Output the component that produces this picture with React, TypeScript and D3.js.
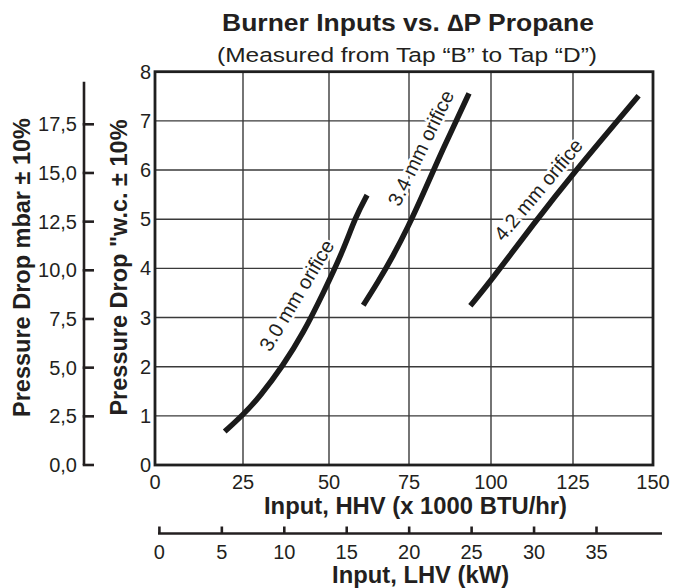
import * as d3 from 'd3'

// HHV input, x 1000 BTU/hr (bottom axis) and pressure drop, "w.c. (left axis)
const hhvTicks = [0, 25, 50, 75, 100, 125, 150]
const wcTicks = [0, 1, 2, 3, 4, 5, 6, 7, 8]
const mbarTicks = [0, 2.5, 5, 7.5, 10, 12.5, 15, 17.5]
const kwTicks = [0, 5, 10, 15, 20, 25, 30, 35]

// curves: [HHV, "w.c.]
const orifice30: [number, number][] = [
  [19.8, 0.68], [25, 1.02], [29.9, 1.39], [36.7, 2.03], [42.5, 2.68],
  [48.3, 3.49], [54.5, 4.37], [58.3, 5.05], [61.9, 5.49],
]
const orifice34: [number, number][] = [
  [60.7, 3.25], [65.3, 3.72], [70, 4.25], [74.7, 4.84], [79.3, 5.51],
  [83.8, 6.2], [88.7, 6.9], [93.3, 7.56],
]
const orifice42: [number, number][] = [
  [93.7, 3.24], [99.8, 3.73], [112.9, 4.9], [125, 5.93], [145.5, 7.51],
]
const curves = [orifice30, orifice34, orifice42]
const curveNames = ['3.0 mm orifice', '3.4 mm orifice', '4.2 mm orifice']
// where each name sits (HHV, "w.c.) and its slant in degrees
const nameSpots: [number, number, number][] = [
  [40.6, 3.45, -59],
  [78.6, 6.45, -64],
  [114.4, 5.6, -50],
]

const W = 674
const H = 588
const FONT = "'Liberation Sans', Arial, Helvetica, sans-serif"
const INK = '#231f20'

export default function App() {
  // the grid in the source is hand spaced, so x is piecewise
  const x = d3.scaleLinear().domain(hhvTicks).range([155, 243, 329, 409, 491, 573, 653])
  const y = d3.scaleLinear().domain([0, 8]).range([465, 71.7])
  const yMbar = d3.scaleLinear().domain([0, 17.5]).range([465, 124.3])
  const xKw = d3.scaleLinear().domain([0, 35]).range([159.4, 596.5])

  const [x0, x1] = [x(0), x(150)]
  const [yTop, yBot] = [y(8), y(0)]

  const line = d3
    .line<[number, number]>()
    .x((d) => x(d[0]))
    .y((d) => y(d[1]))
    .curve(d3.curveBasis)

  const mbarX = 84
  const kwY = 533.5

  return (
    <div style={{ position: 'absolute', left: 0, top: 0 }}>
      <svg width={W} height={H} style={{ display: 'block', background: '#fff' }} fontFamily={FONT}>
        {/* titles */}
        <text x={408} y={31} textAnchor="middle" fontSize={23.5} fontWeight="bold" fill={INK}
          textLength={372} lengthAdjust="spacingAndGlyphs">
          Burner Inputs vs. ∆P Propane
        </text>
        <text x={407} y={62} textAnchor="middle" fontSize={20.5} fill={INK}
          textLength={380} lengthAdjust="spacingAndGlyphs">
          (Measured from Tap “B” to Tap “D”)
        </text>

        {/* grid */}
        {hhvTicks.slice(1, -1).map((t) => (
          <line key={'gx' + t} x1={x(t)} x2={x(t)} y1={yTop} y2={yBot} stroke="#3a3a3a" strokeWidth={1.4} />
        ))}
        {wcTicks.slice(1, -1).map((t) => (
          <line key={'gy' + t} x1={x0} x2={x1} y1={y(t)} y2={y(t)} stroke="#3a3a3a" strokeWidth={1.4} />
        ))}

        {/* curve names, knocked out of the grid */}
        {curveNames.map((name, i) => {
          const [hx, wy, ang] = nameSpots[i]
          return (
            <text key={name} transform={`translate(${x(hx)},${y(wy)}) rotate(${ang})`} textAnchor="middle"
              dy="0.35em" fontSize={20} fill={INK} stroke="#fff" strokeWidth={5} paintOrder="stroke"
              strokeLinejoin="round">
              {name}
            </text>
          )
        })}

        {curves.map((c, i) => (
          <path key={i} d={line(c) ?? ''} fill="none" stroke="#1a1a1a" strokeWidth={5.5} strokeLinecap="butt" />
        ))}

        <rect x={x0} y={yTop} width={x1 - x0} height={yBot - yTop} fill="none" stroke="#1f1f1f" strokeWidth={2.8} />

        {/* "w.c. axis labels */}
        {wcTicks.map((t) => (
          <text key={'wc' + t} x={151} y={y(t)} dy="0.35em" textAnchor="end" fontSize={20} fill={INK}>
            {t}
          </text>
        ))}
        <text transform={`translate(126.5,267.5) rotate(-90)`} textAnchor="middle" fontSize={23.5}
          fontWeight="bold" fill={INK}>
          Pressure Drop "w.c. ± 10%
        </text>

        {/* mbar axis */}
        <line x1={mbarX} x2={mbarX} y1={yTop + 10} y2={yMbar(0)} stroke={INK} strokeWidth={2.6} />
        {mbarTicks.map((t) => (
          <g key={'mb' + t}>
            <line x1={mbarX - 1.3} x2={mbarX + 10} y1={yMbar(t)} y2={yMbar(t)} stroke={INK} strokeWidth={2.6} />
            <text x={77} y={yMbar(t)} dy="0.35em" textAnchor="end" fontSize={20} fill={INK}>
              {t.toFixed(1).replace('.', ',')}
            </text>
          </g>
        ))}
        <text transform={`translate(30,267.5) rotate(-90)`} textAnchor="middle" fontSize={23.5}
          fontWeight="bold" fill={INK}>
          Pressure Drop mbar ± 10%
        </text>

        {/* HHV axis labels */}
        {hhvTicks.map((t) => (
          <text key={'hx' + t} x={x(t)} y={489} textAnchor="middle" fontSize={20} fill={INK}>
            {t}
          </text>
        ))}
        <text x={415.5} y={514} textAnchor="middle" fontSize={23} fontWeight="bold" fill={INK}
          textLength={303} lengthAdjust="spacingAndGlyphs">
          Input, HHV (x 1000 BTU/hr)
        </text>

        {/* LHV axis */}
        <line x1={158} x2={662} y1={kwY} y2={kwY} stroke={INK} strokeWidth={2.6} />
        {kwTicks.map((t) => (
          <g key={'kw' + t}>
            <line x1={xKw(t)} x2={xKw(t)} y1={kwY} y2={kwY - 7} stroke={INK} strokeWidth={2.6} />
            <text x={xKw(t)} y={559} textAnchor="middle" fontSize={20} fill={INK}>
              {t}
            </text>
          </g>
        ))}
        <text x={420.6} y={583} textAnchor="middle" fontSize={23} fontWeight="bold" fill={INK}
          textLength={177} lengthAdjust="spacingAndGlyphs">
          Input, LHV (kW)
        </text>
      </svg>
    </div>
  )
}
